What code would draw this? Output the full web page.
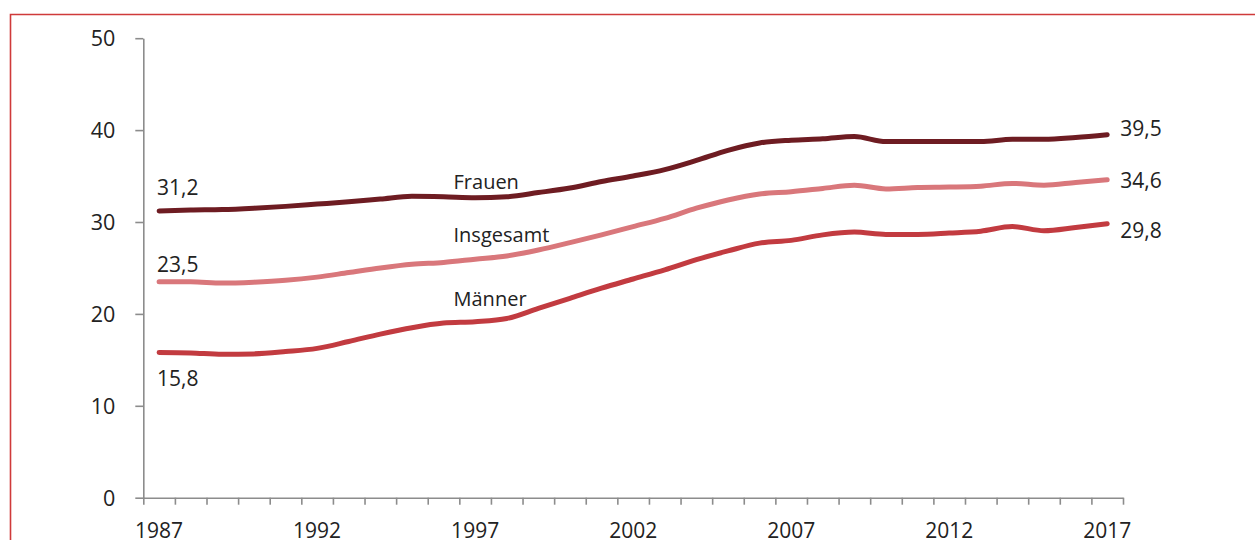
<!DOCTYPE html>
<html>
<head>
<meta charset="utf-8">
<style>
  body { margin: 0; background: #fff; }
  svg text { font-family: 'Open Sans', 'Noto Sans', sans-serif; }
</style>
</head>
<body>
<div id="div_template"></div>
<script src="https://d3js.org/d3.v7.min.js"></script>
<script>
  // categories
  const years = [
    1987, 1988, 1989, 1990, 1991, 1992, 1993, 1994, 1995, 1996, 1997,
    1998, 1999, 2000, 2001, 2002, 2003, 2004, 2005, 2006, 2007, 2008,
    2009, 2010, 2011, 2012, 2013, 2014, 2015, 2016, 2017,
  ];
  const yearLabels = [1987, 1992, 1997, 2002, 2007, 2012, 2017];
  const yTicks = [0, 10, 20, 30, 40, 50];

  // series
  const frauen = [
    31.2, 31.3, 31.35, 31.5, 31.7, 31.95, 32.2, 32.5, 32.8, 32.75, 32.65,
    32.75, 33.2, 33.7, 34.4, 35.0, 35.7, 36.7, 37.8, 38.6, 38.9, 39.05,
    39.3, 38.75, 38.75, 38.75, 38.75, 39.0, 39.0, 39.2, 39.5,
  ];
  const insgesamt = [
    23.5, 23.5, 23.35, 23.45, 23.65, 24.0, 24.5, 25.0, 25.4, 25.6, 25.95,
    26.3, 26.95, 27.75, 28.6, 29.5, 30.4, 31.5, 32.4, 33.05, 33.3, 33.65,
    34.0, 33.6, 33.75, 33.8, 33.9, 34.2, 34.0, 34.3, 34.6,
  ];
  const maenner = [
    15.8, 15.75, 15.6, 15.65, 15.9, 16.25, 17.0, 17.8, 18.5, 19.0, 19.15,
    19.5, 20.6, 21.7, 22.8, 23.8, 24.8, 25.9, 26.85, 27.7, 28.0, 28.6,
    28.9, 28.65, 28.65, 28.8, 29.0, 29.5, 29.05, 29.4, 29.8,
  ];
  const seriesNames = ['Frauen', 'Insgesamt', 'Männer'];
  const seriesColors = ['#6e1c22', '#d9777b', '#c23b40'];

  const width = 1255;
  const height = 540;
  const plot = { left: 143.3, right: 1123, top: 38.2, bottom: 497.7 };

  const svg = d3
    .select('#div_template')
    .append('svg')
    .attr('width', width)
    .attr('height', height);

  // red frame of the page
  svg
    .append('path')
    .attr('d', `M10.5 ${height + 2} L10.5 14.5 L${width + 2} 14.5`)
    .attr('fill', 'none')
    .attr('stroke', '#cf3a3a')
    .attr('stroke-width', 1.6);

  const xScale = d3
    .scaleBand()
    .domain(years)
    .range([plot.left, plot.right])
    .padding(0);
  const xEdge = d3
    .scaleLinear()
    .domain([0, years.length])
    .range([plot.left, plot.right]);
  const yScale = d3
    .scaleLinear()
    .domain([0, 50])
    .range([plot.bottom, plot.top]);

  const xc = (yr) => xScale(yr) + xScale.bandwidth() / 2;

  // y axis
  const yAxis = d3
    .axisLeft(yScale)
    .tickValues(yTicks)
    .tickSize(8)
    .tickSizeOuter(0)
    .tickPadding(20)
    .tickFormat((d) => d);
  const gy = svg
    .append('g')
    .attr('transform', `translate(${plot.left},0)`)
    .call(yAxis);
  gy.select('.domain').attr('stroke', '#8c8c8c').attr('stroke-width', 1.6);
  gy.selectAll('.tick line').attr('stroke', '#8c8c8c').attr('stroke-width', 1.6);
  gy.selectAll('.tick text')
    .attr('fill', '#222')
    .attr('font-size', '21.5px')
    .attr('dy', '0.36em');

  // x axis: tick marks between categories
  const xTickAxis = d3
    .axisBottom(xEdge)
    .tickValues(d3.range(0, years.length + 1))
    .tickSize(7)
    .tickSizeOuter(0)
    .tickFormat('');
  const gx = svg
    .append('g')
    .attr('transform', `translate(0,${plot.bottom})`)
    .call(xTickAxis);
  gx.select('.domain').attr('stroke', '#8c8c8c').attr('stroke-width', 1.6);
  gx.selectAll('.tick line').attr('stroke', '#8c8c8c').attr('stroke-width', 1.6);

  // x labels at category centres
  const xLabelAxis = d3
    .axisBottom(xScale)
    .tickValues(yearLabels)
    .tickSize(0)
    .tickPadding(25);
  const gxl = svg
    .append('g')
    .attr('transform', `translate(0,${plot.bottom})`)
    .call(xLabelAxis);
  gxl.select('.domain').remove();
  gxl.selectAll('.tick text')
    .attr('fill', '#222')
    .attr('font-size', '21px');

  // lines
  const allSeries = [frauen, insgesamt, maenner];
  const line = d3
    .line()
    .x((d, i) => xc(years[i]))
    .y((d) => yScale(d))
    .curve(d3.curveMonotoneX);

  svg
    .selectAll('.series')
    .data(allSeries)
    .enter()
    .append('path')
    .attr('class', 'series')
    .attr('d', (d) => line(d))
    .attr('fill', 'none')
    .attr('stroke', (d, i) => seriesColors[i])
    .attr('stroke-width', 5)
    .attr('stroke-linecap', 'round')
    .attr('stroke-linejoin', 'round');

  const fmt = (v) => v.toFixed(1).replace('.', ',');

  // value labels at start and end
  const startDy = [-16, -10, 34];
  const endDy = [1, 8, 14];
  const first = years[0];
  const last = years[years.length - 1];
  allSeries.forEach((s, i) => {
    svg
      .append('text')
      .attr('x', xc(first) - 2)
      .attr('y', yScale(s[0]) + startDy[i])
      .attr('font-size', '21px')
      .attr('fill', '#222')
      .text(fmt(s[0]));
    svg
      .append('text')
      .attr('x', xc(last) + 13)
      .attr('y', yScale(s[s.length - 1]) + endDy[i])
      .attr('font-size', '21px')
      .attr('fill', '#222')
      .text(fmt(s[s.length - 1]));
  });

  // series names
  const nameYear = 1996;
  const nameDy = [-8, -20, -17];
  seriesNames.forEach((n, i) => {
    svg
      .append('text')
      .attr('x', xc(nameYear) + 10)
      .attr('y', yScale(allSeries[i][years.indexOf(nameYear)]) + nameDy[i])
      .attr('font-size', '20px')
      .attr('fill', '#222')
      .text(n);
  });
</script>
</body>
</html>
